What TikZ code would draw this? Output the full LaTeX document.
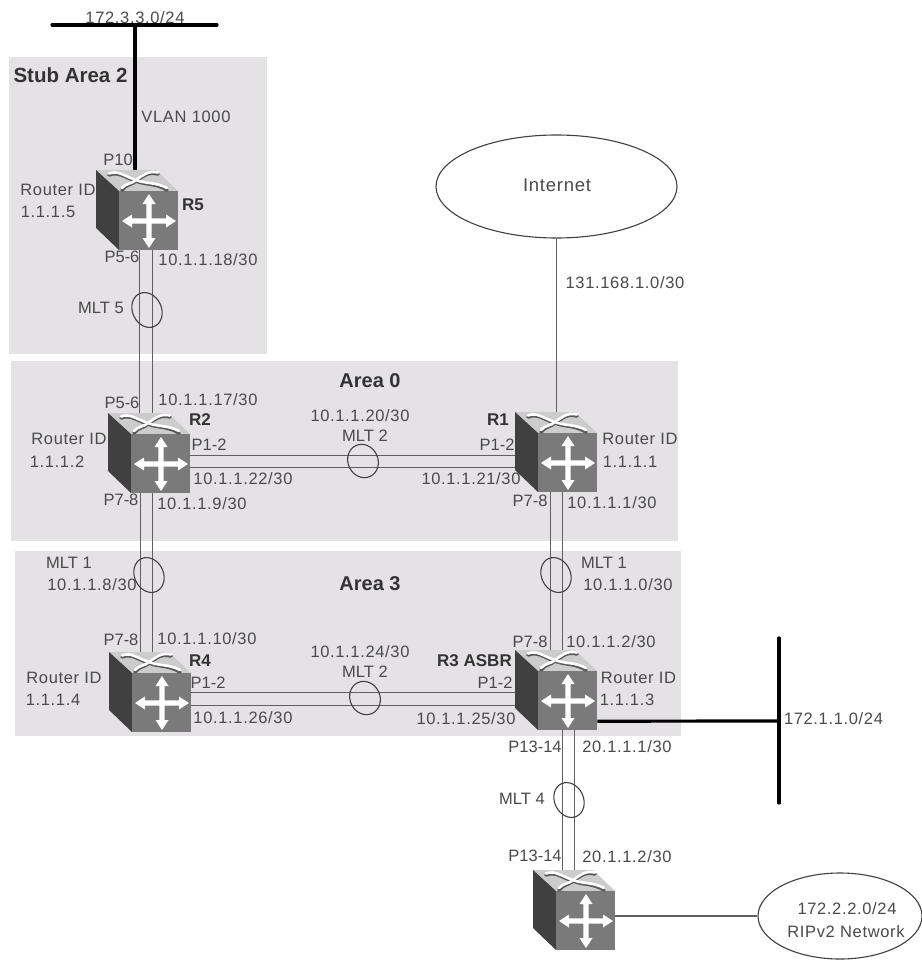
\documentclass[tikz,border=0pt]{standalone}
\usepackage{fontspec}
\setmainfont{Liberation Sans}
\usetikzlibrary{shapes.geometric,calc}
\definecolor{areagray}{HTML}{E4E2E5}
\definecolor{txt}{HTML}{4A4A4A}
\definecolor{wire}{HTML}{5F5F5F}
\tikzset{
  lab/.style={font=\fontsize{16.5}{18}\selectfont,text=txt,inner sep=0pt},
  ipl/.style={font=\fontsize{16.5}{18}\selectfont\addfontfeature{LetterSpace=4},text=txt,inner sep=0pt},
  bld/.style={font=\fontsize{17}{19}\selectfont\bfseries,text=black!80,inner sep=0pt},
  bldbig/.style={font=\fontsize{20}{22}\selectfont\bfseries,text=black!80,inner sep=0pt},
  area/.style={fill=areagray,draw=none},
  wirel/.style={draw=wire,line width=1.4pt},
  thickbar/.style={draw=black,line width=3.2pt,line cap=round},
  mlt/.style={ellipse,draw=black!75,line width=1.1pt,fill=none,inner sep=0pt,minimum width=29pt,minimum height=36pt,rotate=25},
  cloud/.style={ellipse,draw=black!75,line width=1.1pt,inner sep=0pt,align=center},
  routerbb/.style={rectangle,inner sep=0pt,minimum width=82pt,minimum height=80pt,anchor=north west,draw=none},
}
\newcommand{\routerbox}[3]{%
  \begin{scope}[shift={(#2,#3)}]
    \fill[black!20] (0,0) -- (60,0) -- (82,21) -- (23,21) -- cycle;
    \fill[black!75] (0,0) -- (23,21) -- (23,80) -- (0,58) -- cycle;
    \fill[black!52] (23,21) rectangle (82,80);
    \draw[black!65,line width=3.6pt,line cap=round] (13,5) .. controls (22,1) and (28,7) .. (40,11) .. controls (50,15) and (60,13) .. (71,20);
    \draw[black!65,line width=3.6pt,line cap=round] (62,4) .. controls (52,1) and (46,7) .. (40,11) .. controls (36,15) and (30,14) .. (26,20);
    \draw[white,line width=2.6pt,line cap=round] (13,3.5) .. controls (22,0) and (28,6) .. (40,10) .. controls (50,14) and (60,12) .. (71,18);
    \draw[white,line width=2.6pt,line cap=round] (62,2.5) .. controls (52,0) and (46,6) .. (40,10) .. controls (36,14) and (30,13) .. (26,18);
    \begin{scope}[shift={(53,51)}]
      \fill[white] (-2.6,-2.6) -- (-2.6,-17) -- (-6.5,-17) -- (0,-27) -- (6.5,-17) -- (2.6,-17) -- (2.6,-2.6) -- (17,-2.6) -- (17,-6.5) -- (27,0) -- (17,6.5) -- (17,2.6) -- (2.6,2.6) -- (2.6,17) -- (6.5,17) -- (0,27) -- (-6.5,17) -- (-2.6,17) -- (-2.6,2.6) -- (-17,2.6) -- (-17,6.5) -- (-27,0) -- (-17,-6.5) -- (-17,-2.6) -- cycle;
    \end{scope}
    \node[routerbb] (#1) at (0,0) {};
  \end{scope}}
\begin{document}
\begin{tikzpicture}[x=1pt,y=-1pt]
\useasboundingbox (0,0) rectangle (921,960);
\fill[white] (0,0) rectangle (921,960);
% shaded areas
\fill[area] (9,57) rectangle (267,354);
\fill[area] (11,361) rectangle (678,541);
\fill[area] (15,551) rectangle (681,736);
% router anchors (invisible) first so the wires can use them
\node[routerbb] (R5) at (96,170) {};
\node[routerbb] (R2) at (108,413) {};
\node[routerbb] (R1) at (515,412) {};
\node[routerbb] (R4) at (109,652) {};
\node[routerbb] (R3) at (515,650) {};
\node[routerbb] (R6) at (533,870) {};
% clouds
\node[cloud,minimum width=241pt,minimum height=103pt] (inet) at (556.5,186.5) {};
\node[cloud,minimum width=164pt,minimum height=86pt] (rip) at (840,916) {};
% bars
\coordinate (barL) at (52,25);
\coordinate (barR) at (217,25);
\coordinate (barJ) at (135,25);
\coordinate (rbarT) at (779,638);
\coordinate (rbarB) at (779,803);
\coordinate (rbarJ) at (779,721);
\draw[thickbar] (barL) -- (barR);
\draw[thickbar,line cap=butt] (barJ) -- (barJ |- R5.north);
\draw[thickbar] (rbarT) -- (rbarB);
\draw[thickbar,line cap=butt] ([yshift=-31pt]R3.east) -- (rbarJ);
% single links
\draw[wirel] (inet.south -| R1.north) -- (R1.north);
\draw[wirel] (R6.east |- rip.west) -- (rip.west);
% MLT pairs
\draw[wirel] ([xshift=2.5pt]R5.south) -- ([xshift=-9.5pt]R2.north);
\draw[wirel] ([xshift=15.5pt]R5.south) -- ([xshift=3.5pt]R2.north);
\draw[wirel] ([xshift=-9pt]R2.south) -- ([xshift=-10pt]R4.north);
\draw[wirel] ([xshift=3.5pt]R2.south) -- ([xshift=2.5pt]R4.north);
\draw[wirel] ([yshift=-2pt]R2.east) -- ([yshift=-3pt]R1.west);
\draw[wirel] ([yshift=-14pt]R2.east) -- ([yshift=-15pt]R1.west);
\draw[wirel] ([yshift=0pt]R4.east) -- ([yshift=-2pt]R3.west);
\draw[wirel] ([yshift=-13pt]R4.east) -- ([yshift=-15pt]R3.west);
\draw[wirel] ([xshift=-6pt]R1.south) -- ([xshift=-6pt]R3.north);
\draw[wirel] ([xshift=6pt]R1.south) -- ([xshift=6pt]R3.north);
\draw[wirel] ([xshift=6pt]R3.south) -- ([xshift=-12pt]R6.north);
\draw[wirel] ([xshift=18pt]R3.south) -- ([xshift=0pt]R6.north);
% routers
\routerbox{R5face}{96}{170}
\routerbox{R2face}{108}{413}
\routerbox{R1face}{515}{412}
\routerbox{R4face}{109}{652}
\routerbox{R3face}{515}{650}
\routerbox{R6face}{533}{870}
% MLT ovals
\node[mlt] (o5) at (147,310) {};
\node[mlt,minimum width=30pt,minimum height=34pt] (o2a) at (363,461) {};
\node[mlt,minimum width=30pt,minimum height=34pt] (o2b) at (365,698) {};
\node[mlt] (o1a) at (149,575) {};
\node[mlt] (o1b) at (556,575) {};
\node[mlt] (o4) at (569,800) {};
% labels
\node[ipl] (t01) at (135,18) {172.3.3.0/24};
\node[bldbig,font=\fontsize{20.5}{22}\selectfont\bfseries] (t02) at (70.5,75) {Stub Area 2};
\node[ipl] (t03) at (186,117) {VLAN 1000};
\node[lab] (t04) at (118,160) {P10};
\node[ipl] (t05) at (58,190) {Router ID};
\node[ipl] (t06) at (48,212) {1.1.1.5};
\node[bld] (t07) at (193,205) {R5};
\node[lab] (t08) at (122,257) {P5-6};
\node[ipl] (t09) at (208,260) {10.1.1.18/30};
\node[lab] (t10) at (101,308) {MLT 5};
\node[ipl] (t11) at (208,400) {10.1.1.17/30};
\node[lab] (t12) at (122,403) {P5-6};
\node[bld] (t13) at (200,420) {R2};
\node[lab] (t14) at (209,445) {P1-2};
\node[ipl] (t15) at (243,479) {10.1.1.22/30};
\node[lab] (t16) at (121,500) {P7-8};
\node[ipl] (t17) at (202,504) {10.1.1.9/30};
\node[ipl] (t18) at (69,439) {Router ID};
\node[ipl] (t19) at (57,462) {1.1.1.2};
\node[bldbig] (t20) at (370,381) {Area 0};
\node[ipl] (t21) at (360,416) {10.1.1.20/30};
\node[lab] (t22) at (365,436) {MLT 2};
\node[bld] (t23) at (498,420) {R1};
\node[lab] (t24) at (497,445) {P1-2};
\node[ipl] (t25) at (471,479) {10.1.1.21/30};
\node[lab] (t26) at (530,501) {P7-8};
\node[ipl] (t27) at (612,503) {10.1.1.1/30};
\node[ipl] (t28) at (640,439) {Router ID};
\node[ipl] (t29) at (630,462) {1.1.1.1};
\node[ipl] (t30) at (625,283) {131.168.1.0/30};
\node[ipl,font=\fontsize{18.5}{20}\selectfont\addfontfeature{LetterSpace=4}] (t31) at (557,185) {Internet};
\node[lab] (t32) at (69,563) {MLT 1};
\node[ipl] (t33) at (92,585) {10.1.1.8/30};
\node[bldbig] (t34) at (370,584) {Area 3};
\node[lab] (t35) at (604,563) {MLT 1};
\node[ipl] (t36) at (628,585) {10.1.1.0/30};
\node[lab] (t37) at (121,640) {P7-8};
\node[ipl] (t38) at (207,639) {10.1.1.10/30};
\node[bld] (t39) at (200,661) {R4};
\node[ipl] (t40) at (64,678) {Router ID};
\node[ipl] (t41) at (53,700) {1.1.1.4};
\node[lab] (t42) at (208,683) {P1-2};
\node[ipl] (t43) at (243,718) {10.1.1.26/30};
\node[ipl] (t44) at (360,652) {10.1.1.24/30};
\node[lab] (t45) at (365,672) {MLT 2};
\node[bld] (t46) at (474.5,661) {R3 ASBR};
\node[lab] (t47) at (495,683) {P1-2};
\node[ipl] (t48) at (466,719) {10.1.1.25/30};
\node[lab] (t49) at (530,642) {P7-8};
\node[ipl] (t50) at (611,642) {10.1.1.2/30};
\node[ipl] (t51) at (638.5,678) {Router ID};
\node[ipl] (t52) at (627,700) {1.1.1.3};
\node[ipl] (t53) at (833.5,719) {172.1.1.0/24};
\node[lab] (t54) at (535,747) {P13-14};
\node[ipl] (t55) at (627,747) {20.1.1.1/30};
\node[lab] (t56) at (522,799) {MLT 4};
\node[lab] (t57) at (535,856) {P13-14};
\node[ipl] (t58) at (627,857) {20.1.1.2/30};
\node[ipl] (t59) at (847,909) {172.2.2.0/24};
\node[ipl] (t60) at (846,932) {RIPv2 Network};
\end{tikzpicture}
\end{document}
